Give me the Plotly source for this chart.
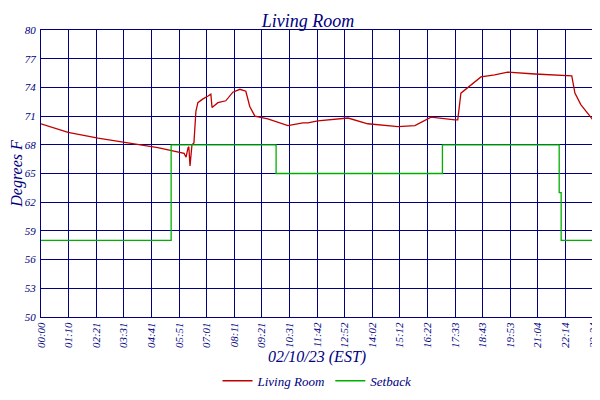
import plotly.graph_objects as go

# minutes since midnight, 02/10/23
temp_min = [0, 69, 145, 221, 297, 364, 369, 374, 376, 379, 384, 389, 394, 399, 412, 425, 432, 435,
            450, 470, 488, 506, 521, 531, 544, 577, 615, 628, 666, 679, 704, 781, 831, 908, 951,
            992, 1053, 1060, 1068, 1093, 1119, 1154, 1187, 1256, 1340, 1350, 1358, 1373, 1404]
temp_f = [70.2, 69.3, 68.7, 68.2, 67.7, 67.1, 66.7, 67.7, 67.8, 65.8, 68.0, 68.2, 71.5, 72.4, 72.8, 73.1, 73.3, 71.9,
          72.4, 72.6, 73.5, 73.8, 73.6, 72.0, 71.0, 70.7, 70.2, 70.0, 70.3, 70.3, 70.5, 70.8, 70.2, 69.9, 70.0,
          70.9, 70.6, 70.6, 73.4, 74.2, 75.1, 75.3, 75.6, 75.4, 75.2, 75.2, 73.4, 72.2, 70.6]

setback_min = [0, 331, 598, 1021, 1318, 1323, 1404]
setback_f = [58, 68, 65, 68, 63, 58, 58]

tick_vals = [i * 70.2 for i in range(21)]
tick_text = ["00:00", "01:10", "02:21", "03:31", "04:41", "05:51", "07:01", "08:11", "09:21", "10:31",
             "11:42", "12:52", "14:02", "15:12", "16:22", "17:33", "18:43", "19:53", "21:04", "22:14", "23:24"]
y_ticks = [50, 53, 56, 59, 62, 65, 68, 71, 74, 77, 80]

NAVY = "#000080"
FONT = "Liberation Serif"

fig = go.Figure()
fig.add_trace(go.Scatter(x=temp_min, y=temp_f, mode="lines", name="<i>Living Room</i>",
                         line=dict(color="#c00000", width=1.3)))
fig.add_trace(go.Scatter(x=setback_min, y=setback_f, mode="lines", name="<i>Setback</i>",
                         line=dict(color="#00b000", width=1.3, shape="hv")))
# invisible trace to carry the right-hand axis
fig.add_trace(go.Scatter(x=[0], y=[50], yaxis="y2", mode="markers", marker=dict(opacity=0),
                         showlegend=False, hoverinfo="skip"))

axis_font = dict(family=FONT, size=11, color=NAVY, style="italic")
fig.update_layout(
    width=600, height=400,
    margin=dict(l=33, r=15, t=22, b=67),
    paper_bgcolor="white", plot_bgcolor="white",
    title=dict(text="<i>Living Room</i>", x=0.5, xanchor="center", y=0.985, yanchor="top",
               font=dict(family=FONT, size=18, color=NAVY)),
    xaxis=dict(range=[0, 1404], tickvals=tick_vals, ticktext=tick_text, tickangle=-90,
               tickfont=axis_font, showgrid=True, gridcolor=NAVY, automargin=False,
               gridwidth=1, showline=True, linecolor=NAVY, mirror=True, zeroline=False,
               title=dict(text="<i>02/10/23 (EST)</i>", font=dict(family=FONT, size=16, color=NAVY),
                          standoff=2)),
    yaxis=dict(range=[50, 80], tickvals=y_ticks, tickfont=axis_font, showgrid=True, gridcolor=NAVY,
               showline=True, linecolor=NAVY, mirror=True, zeroline=False, ticklabelstandoff=2,
               automargin=False,
               title=dict(text="<i>Degrees F</i>", font=dict(family=FONT, size=16, color=NAVY), standoff=0)),
    yaxis2=dict(range=[50, 80], tickvals=y_ticks, tickfont=axis_font, overlaying="y", side="right",
                showgrid=False, zeroline=False, automargin=False),
    legend=dict(orientation="h", x=0.5, xanchor="center", y=-0.17, yanchor="top",
                font=dict(family=FONT, size=13, color=NAVY)),
)
fig.write_html("out.html")
